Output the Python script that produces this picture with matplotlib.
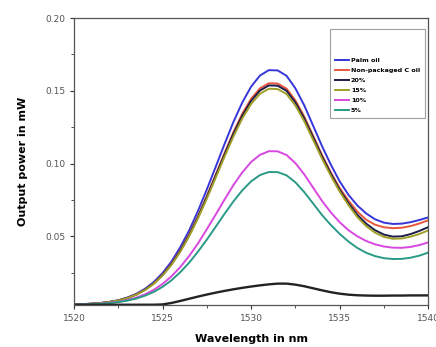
import matplotlib
matplotlib.use("Agg")
import matplotlib.pyplot as plt
from matplotlib.ticker import MultipleLocator

wavelength = [1520 + 0.5 * i for i in range(41)]

palm_oil = [0.0032, 0.0034, 0.0037, 0.0042, 0.0050, 0.0061, 0.0079, 0.0104, 0.0139, 0.0186,
            0.0248, 0.0327, 0.0426, 0.0541, 0.0675, 0.0823, 0.0978, 0.1135, 0.1286, 0.1420,
            0.1529, 0.1605, 0.1642, 0.1640, 0.1603, 0.1517, 0.1400, 0.1261, 0.1121, 0.0993,
            0.0878, 0.0785, 0.0712, 0.0657, 0.0617, 0.0594, 0.0585, 0.0587, 0.0597, 0.0612, 0.0630]

non_packaged = [0.0032, 0.0034, 0.0037, 0.0041, 0.0049, 0.0059, 0.0076, 0.0100, 0.0133, 0.0177,
                0.0236, 0.0311, 0.0404, 0.0513, 0.0639, 0.0778, 0.0925, 0.1073, 0.1216, 0.1342,
                0.1445, 0.1517, 0.1552, 0.1550, 0.1515, 0.1434, 0.1323, 0.1192, 0.1060, 0.0940,
                0.0832, 0.0745, 0.0670, 0.0614, 0.0580, 0.0562, 0.0556, 0.0559, 0.0570, 0.0588, 0.0610]

pct20 = [0.0032, 0.0034, 0.0037, 0.0041, 0.0049, 0.0059, 0.0076, 0.0099, 0.0132, 0.0176,
         0.0234, 0.0308, 0.0400, 0.0508, 0.0633, 0.0771, 0.0916, 0.1063, 0.1204, 0.1329,
         0.1431, 0.1502, 0.1537, 0.1535, 0.1500, 0.1420, 0.1310, 0.1180, 0.1050, 0.0930,
         0.0820, 0.0728, 0.0648, 0.0587, 0.0542, 0.0512, 0.0498, 0.0500, 0.0515, 0.0537, 0.0563]

pct15 = [0.0032, 0.0034, 0.0037, 0.0041, 0.0049, 0.0059, 0.0075, 0.0098, 0.0130, 0.0174,
         0.0231, 0.0304, 0.0394, 0.0501, 0.0624, 0.0760, 0.0903, 0.1048, 0.1186, 0.1310,
         0.1410, 0.1480, 0.1514, 0.1512, 0.1478, 0.1399, 0.1291, 0.1163, 0.1035, 0.0916,
         0.0808, 0.0714, 0.0632, 0.0570, 0.0525, 0.0496, 0.0483, 0.0485, 0.0497, 0.0516, 0.0540]

pct10 = [0.0031, 0.0033, 0.0035, 0.0038, 0.0043, 0.0050, 0.0062, 0.0078, 0.0101, 0.0132,
         0.0173, 0.0225, 0.0289, 0.0365, 0.0452, 0.0549, 0.0650, 0.0753, 0.0852, 0.0939,
         0.1011, 0.1060, 0.1085, 0.1084, 0.1059, 0.1003, 0.0926, 0.0835, 0.0744, 0.0665,
         0.0597, 0.0542, 0.0500, 0.0468, 0.0445, 0.0430, 0.0422, 0.0421, 0.0427, 0.0440, 0.0458]

pct5 = [0.0031, 0.0032, 0.0034, 0.0037, 0.0041, 0.0048, 0.0058, 0.0072, 0.0092, 0.0118,
        0.0153, 0.0198, 0.0254, 0.0319, 0.0395, 0.0478, 0.0566, 0.0655, 0.0740, 0.0816,
        0.0878, 0.0921, 0.0942, 0.0941, 0.0919, 0.0871, 0.0804, 0.0726, 0.0647, 0.0578,
        0.0517, 0.0464, 0.0420, 0.0387, 0.0364, 0.0350, 0.0344, 0.0345, 0.0353, 0.0367, 0.0388]

reference = [0.0030, 0.0030, 0.0030, 0.0030, 0.0030, 0.0030, 0.0030, 0.0030, 0.0030, 0.0030,
             0.0032, 0.0042, 0.0056, 0.0071, 0.0086, 0.0100, 0.0113, 0.0125, 0.0136, 0.0146,
             0.0155, 0.0163, 0.0170, 0.0175, 0.0175, 0.0168, 0.0157, 0.0143, 0.0129, 0.0116,
             0.0106, 0.0099, 0.0095, 0.0093, 0.0092, 0.0092, 0.0093, 0.0093, 0.0094, 0.0094, 0.0094]

labels = ["Palm oil", "Non-packaged C oil", "20%", "15%", "10%", "5%"]
colors = ["#3636d8", "#e8563c", "#1c1c48", "#a0a028", "#d848e0", "#2a9a86"]

fig = plt.figure(figsize=(4.36, 3.47), dpi=100)
ax = fig.add_axes([0.170, 0.121, 0.812, 0.827])

series = [palm_oil, non_packaged, pct20, pct15, pct10, pct5]
for y, lab, c in zip(series, labels, colors):
    ax.plot(wavelength, y, color=c, lw=1.4, label=lab)
ax.plot(wavelength, reference, color="#222222", lw=1.7)

ax.set_xlim(1520, 1540)
ax.set_ylim(0.0028, 0.2)
ax.xaxis.set_major_locator(MultipleLocator(5))
ax.xaxis.set_minor_locator(MultipleLocator(2.5))
ax.yaxis.set_major_locator(MultipleLocator(0.05))
ax.yaxis.set_minor_locator(MultipleLocator(0.025))
ax.set_yticks([0.05, 0.10, 0.15, 0.20])
ax.set_yticklabels(["0.05", "0.10", "0.15", "0.20"])
ax.tick_params(which="major", length=3, width=0.8, labelsize=6.5, colors="#333333", labelcolor="#555555")
ax.tick_params(which="minor", length=2, width=0.6, colors="#333333")
for s in ax.spines.values():
    s.set_linewidth(0.9)
    s.set_color("#555555")

ax.set_xlabel("Wavelength in nm", fontsize=8, fontweight="bold", labelpad=8)
ax.set_ylabel("Output power in mW", fontsize=8, fontweight="bold", labelpad=12)

leg = ax.legend(loc="upper right", bbox_to_anchor=(1.0, 0.972),
                prop={"weight": "bold", "size": 4.6}, handlelength=2.2, handletextpad=0.3,
                labelspacing=0.7, borderpad=0.75, frameon=True, fancybox=False,
                title=" \n ", title_fontsize=6.5)
leg.get_frame().set_edgecolor("#888888")
leg.get_frame().set_linewidth(0.8)
leg._legend_box.align = "left"

fig.savefig("out.png", dpi=100)
